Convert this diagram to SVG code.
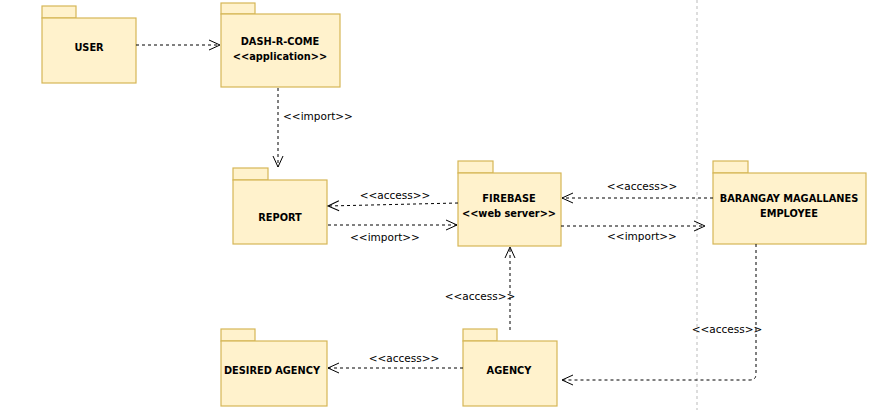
<svg xmlns="http://www.w3.org/2000/svg" width="882" height="410" viewBox="0 0 882 410">
<defs>
<marker id="open" markerWidth="14" markerHeight="14" refX="12" refY="7" orient="auto" markerUnits="userSpaceOnUse">
<path d="M1,2 L12,7 L1,12" fill="none" stroke="#000" stroke-width="1"/>
</marker>
<style>
.pkg{fill:#fff2cc;stroke:#d6b656;stroke-width:1.2}
.name{font-family:"DejaVu Sans","Liberation Sans",sans-serif;font-size:9.8px;font-weight:bold;fill:#000;text-anchor:middle}
.lbl{font-family:"DejaVu Sans","Liberation Sans",sans-serif;font-size:10.5px;fill:#000;text-anchor:middle}
.dep{fill:none;stroke:#000;stroke-width:1;stroke-dasharray:3 3;marker-end:url(#open)}
</style>
</defs>
<rect width="882" height="410" fill="#fff"/>
<line x1="697" y1="0" x2="697" y2="410" stroke="#bbb" stroke-width="1" stroke-dasharray="3 3"/>
<g id="user"><rect class="pkg" x="42" y="6" width="34" height="12"/><rect class="pkg" x="42" y="18" width="94" height="65"/><text class="name" x="89" y="51">USER</text></g>
<g id="dash"><rect class="pkg" x="221" y="3" width="34" height="11"/><rect class="pkg" x="221" y="14" width="119" height="73"/><text class="name" x="280" y="45">DASH-R-COME</text><text class="name" x="280" y="60">&lt;&lt;application&gt;&gt;</text></g>
<g id="report"><rect class="pkg" x="233" y="168" width="35" height="12"/><rect class="pkg" x="233" y="180" width="94" height="64"/><text class="name" x="280" y="221">REPORT</text></g>
<g id="firebase"><rect class="pkg" x="458" y="161" width="35" height="12"/><rect class="pkg" x="458" y="173" width="103" height="73"/><text class="name" x="509" y="202">FIREBASE</text><text class="name" x="509" y="217">&lt;&lt;web server&gt;&gt;</text></g>
<g id="barangay"><rect class="pkg" x="713" y="161" width="35" height="12"/><rect class="pkg" x="713" y="173" width="153" height="71"/><text class="name" x="789" y="202">BARANGAY MAGALLANES</text><text class="name" x="789" y="217">EMPLOYEE</text></g>
<g id="desired"><rect class="pkg" x="221" y="329" width="34" height="12"/><rect class="pkg" x="221" y="341" width="106" height="65"/><text class="name" x="272" y="374">DESIRED AGENCY</text></g>
<g id="agency"><rect class="pkg" x="463" y="329" width="34" height="12"/><rect class="pkg" x="463" y="341" width="94" height="65"/><text class="name" x="509" y="374">AGENCY</text></g>
<g id="connectors">
<path class="dep" d="M136,45 L220,45"/>
<path class="dep" d="M278,88 L278,167"/>
<text class="lbl" x="318" y="120">&lt;&lt;import&gt;&gt;</text>
<path class="dep" d="M458,203 L328,206"/>
<text class="lbl" x="395" y="199">&lt;&lt;access&gt;&gt;</text>
<path class="dep" d="M328,225 L457,225"/>
<text class="lbl" x="385" y="241">&lt;&lt;import&gt;&gt;</text>
<path class="dep" d="M713,198 L562,198"/>
<text class="lbl" x="642" y="190">&lt;&lt;access&gt;&gt;</text>
<path class="dep" d="M561,226 L705,226"/>
<text class="lbl" x="642" y="240">&lt;&lt;import&gt;&gt;</text>
<path class="dep" d="M510,330 L510,247"/>
<text class="lbl" x="480" y="300">&lt;&lt;access&gt;&gt;</text>
<path class="dep" d="M463,368 L328,368"/>
<text class="lbl" x="404" y="362">&lt;&lt;access&gt;&gt;</text>
<path class="dep" d="M756,244 L756,374 Q756,380 750,380 L562,380"/>
<text class="lbl" x="727" y="333">&lt;&lt;access&gt;&gt;</text>
</g>
</svg>
